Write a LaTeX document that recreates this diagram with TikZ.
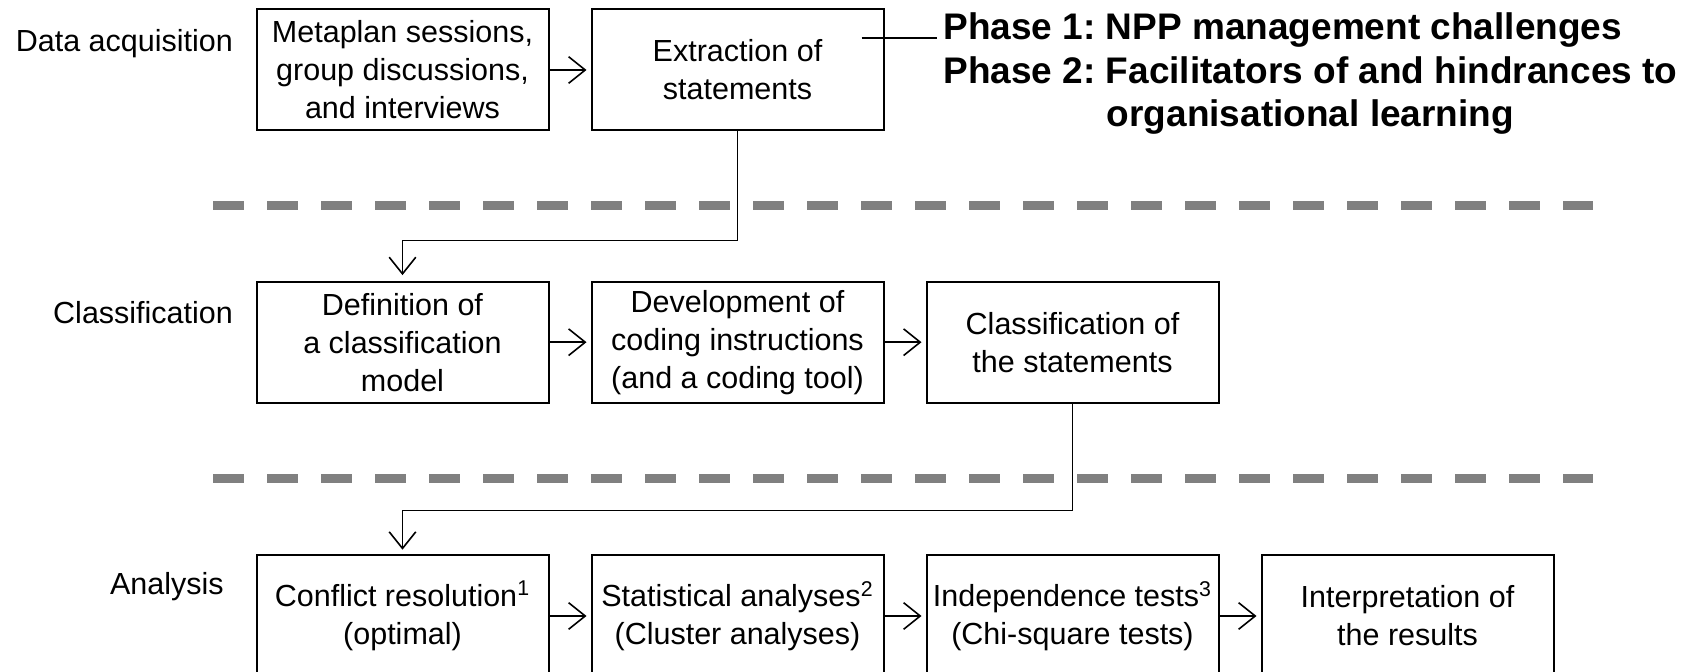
\documentclass[tikz,border=0pt]{standalone}
\usepackage{fontspec}
\setmainfont{Liberation Sans}
\usetikzlibrary{arrows.meta}
\definecolor{sepgray}{RGB}{128,128,128}
\frenchspacing
\begin{document}
\begin{tikzpicture}[x=0.5pt,y=-0.5pt,
  box/.style={draw, line width=1pt, minimum width=146pt, minimum height=60.5pt,
    align=center, inner sep=0pt, font=\fontsize{15.25pt}{19pt}\selectfont},
  lbl/.style={inner sep=0pt, anchor=base east, font=\fontsize{15.25pt}{19pt}\selectfont},
  phase/.style={inner sep=3pt, font=\fontsize{18.5pt}{22pt}\selectfont\bfseries},
  arr/.style={line width=0.8pt, -{Straight Barb[length=8.3pt,width=13.3pt]}, shorten >=2pt},
  conn/.style={line width=0.8pt},
  sep/.style={line width=4.3pt, color=sepgray, dash pattern=on 15.5pt off 11.5pt}]
\useasboundingbox (0,0) rectangle (1693,672);

% separators
\draw[sep] (213.3,205.7) -- (1593,205.7);
\draw[sep] (213.3,478.3) -- (1593,478.3);

% row labels
\node[lbl] (l1) at (233.3,51.7) {Data acquisition};
\node[lbl] (l2) at (233.3,323.3) {Classification};
\node[lbl] (l3) at (224,595) {Analysis};

% row 1
\node[box] (a1) at (402.5,70) {Metaplan sessions,\\group discussions,\\and interviews};
\node[box] (a2) at (737.5,70) {Extraction of\\statements};

% row 2
\node[box] (b1) at (402.5,342.2) {Definition of\\a classification\\model};
\node[box] (b2) at (737.5,342.2) {Development of\\coding instructions\\(and a coding tool)};
\node[box] (b3) at (1072.5,342.2) {Classification of\\the statements};

% row 3 (bottom edge lies just below the picture)
\begin{scope}[every node/.append style={minimum height=62.3pt}]
\node[box] (c1) at (402.5,616) {Conflict resolution\textsuperscript{1}\\(optimal)};
\node[box] (c2) at (737.5,616) {Statistical analyses\textsuperscript{2}\\(Cluster analyses)};
\node[box] (c3) at (1072.5,616) {Independence tests\textsuperscript{3}\\(Chi-square tests)};
\node[box] (c4) at (1407.5,616) {Interpretation of\\the results};
\end{scope}

% phase text
\node[phase, anchor=base west] (p1) at (937,39.5) {Phase 1: NPP management challenges};
\node[phase, anchor=base west] (p2) at (937,83.5) {Phase 2: Facilitators of and hindrances to};
\node[phase, anchor=base] (p3) at ([yshift=-21.75pt]p2.base) {organisational learning};
\coordinate (pl) at (861.7,38.3);
\draw[conn] (pl) -- (pl -| p1.west);

% connectors
\draw[arr] (a1) -- (a2);
\draw[arr] (b1) -- (b2);
\draw[arr] (b2) -- (b3);
\draw[arr] (c1) -- (c2);
\draw[arr] (c2) -- (c3);
\draw[arr] (c3) -- (c4);
\draw[arr, shorten >=2.8pt] (a2.south) -- ++(0,109) -| (b1.north);
\draw[arr, shorten >=2.4pt] (b3.south) -- ++(0,107) -| (c1.north);
\end{tikzpicture}
\end{document}
